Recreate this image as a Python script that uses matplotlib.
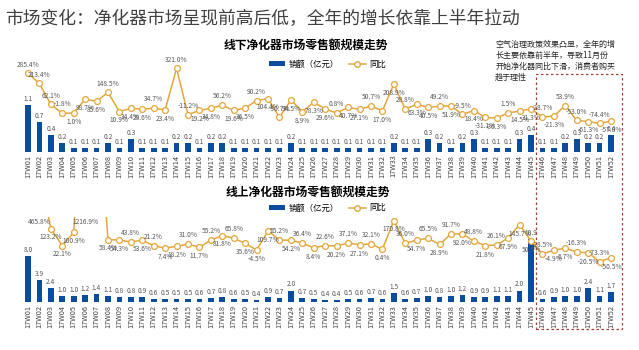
#!/usr/bin/env python3
"""Offline / online air purifier weekly retail sales (2017) with YoY line."""

import numpy as np
import matplotlib

matplotlib.use("Agg")
import matplotlib.pyplot as plt
from matplotlib.lines import Line2D
from matplotlib.patches import Patch, Rectangle

plt.rcParams["font.family"] = ["Noto Sans CJK SC", "DejaVu Sans"]

weeks = [f"17W{i:02d}" for i in range(1, 53)]

# 线下 (offline): sales in 亿元, YoY in %
offline_sales = [
    1.1, 0.7, 0.4, 0.2, 0.1, 0.1, 0.1, 0.2, 0.1, 0.3, 0.1, 0.1, 0.1,
    0.2, 0.2, 0.1, 0.2, 0.2, 0.1, 0.1, 0.1, 0.1, 0.1, 0.2, 0.1, 0.1,
    0.1, 0.1, 0.1, 0.1, 0.1, 0.1, 0.2, 0.1, 0.1, 0.3, 0.2, 0.1, 0.2,
    0.3, 0.1, 0.1, 0.1, 0.3, 0.4, 0.1, 0.1, 0.2, 0.3, 0.2, 0.2, 0.4,
]
offline_yoy = [
    285.4, 213.4, 62.1, -1.8, 1.0, 98.7, 85.6, 148.5, 10.9, 34.4, 28.6, 34.7, 23.4,
    321.0, -11.2, 19.2, 34.8, 56.2, 19.6, 36.5, 90.2, 104.4, -30.7, 94.5, 8.9, 78.3,
    29.6, 0.8, 40.7, 27.1, 50.7, 17.0, 208.9, 28.8, 63.3, 40.5, 49.2, 51.9, -9.5,
    18.4, -31.1, -36.3, 1.5, 14.5, 31.3, -28.7, -21.3, 53.9, -53.0, -61.3, -74.4, -57.8,
]

# 线上 (online)
online_sales = [
    8.0, 3.9, 2.4, 1.0, 1.0, 1.2, 1.4, 1.1, 0.8, 0.8, 0.9, 0.6, 0.5,
    0.5, 0.5, 0.6, 0.7, 0.8, 0.6, 0.5, 0.4, 0.9, 0.7, 2.0, 0.7, 0.5,
    0.4, 0.4, 0.5, 0.6, 0.7, 0.6, 1.5, 0.6, 0.7, 1.0, 0.8, 1.0, 1.2,
    0.9, 0.9, 1.1, 1.1, 2.0, 10.9, 0.6, 0.9, 1.0, 1.0, 2.4, 1.1, 1.7,
]
online_yoy = [
    np.nan, 465.8, 123.2, 22.1, 100.9, 1216.9, 1000.0, 58.4, 54.3, 43.8, 53.6, 21.2, 7.4,
    18.2, 31.0, 11.7, 55.2, 81.8, 65.8, 35.6, -4.5, 109.7, 55.2, 54.2, 36.4, 8.4,
    22.6, 20.2, 37.1, 27.1, 32.1, 0.4, 170.8, 36.0, 54.7, 65.5, 28.9, 91.7, 92.0,
    48.8, 21.8, 26.1, 67.9, 145.7, 50.5, -28.5, -4.9, 6.7, -16.3, -20.5, -73.3, -50.5,
]

# label placement for the YoY labels: a = above, b = below, n = none
offline_pos = list("aaaabbbabb" "babaabbabb" "ababbbbabb" "abbabbabab" "bbabbabaab" "ab")
online_pos = list("nabbbanbba" "babbababab" "bbabababab" "abbabababa" "babbbabbab" "ab")

BAR = "#0B4C9C"
LINE = "#E4A73C"
LABEL = "#595959"


def draw_panel(ax, sales, yoy, pos, bar_top, yoy_lim):
    x = np.arange(len(weeks))
    ax.bar(x, sales, width=0.5, color=BAR, zorder=2)
    for xi, v in zip(x, sales):
        ax.annotate(f"{v:.1f}", (xi, v), xytext=(0, 1.5), textcoords="offset points",
                    ha="center", va="bottom", fontsize=4.8, color=LABEL)
    ax.set_ylim(0, bar_top)
    ax.set_xlim(-0.6, len(weeks) - 0.4)
    ax.set_xticks(x)
    ax.set_xticklabels(weeks, rotation=90, fontsize=5.3, color="#404040")
    ax.tick_params(axis="x", length=0, pad=2)
    ax.set_yticks([])
    for s in ax.spines.values():
        s.set_visible(False)

    ax2 = ax.twinx()
    ax2.plot(x, yoy, color=LINE, linewidth=1.1, marker="o", markersize=4.2,
             markerfacecolor="white", markeredgecolor=LINE, markeredgewidth=0.9, zorder=3)
    ax2.set_ylim(*yoy_lim)
    ax2.set_yticks([])
    for s in ax2.spines.values():
        s.set_visible(False)
    for xi, v, p in zip(x, yoy, pos):
        if p == "n" or np.isnan(v):
            continue
        txt = f"{v:.1f}%"
        if v > yoy_lim[1]:
            ax2.annotate(txt, (xi, yoy_lim[1]), xytext=(0, -1), textcoords="offset points",
                         ha="center", va="top", fontsize=4.8, color=LABEL)
        elif p == "a":
            ax2.annotate(txt, (xi, v), xytext=(0, 3.5), textcoords="offset points",
                         ha="center", va="bottom", fontsize=4.8, color=LABEL)
        else:
            ax2.annotate(txt, (xi, v), xytext=(0, -3.5), textcoords="offset points",
                         ha="center", va="top", fontsize=4.8, color=LABEL)


def legend(fig, y):
    handles = [
        Patch(facecolor=BAR, edgecolor="none"),
        Line2D([0], [0], color=LINE, linewidth=1.1, marker="o", markersize=4,
               markerfacecolor="white", markeredgecolor=LINE),
    ]
    fig.legend(handles, ["销额（亿元）", "同比"], loc="center", bbox_to_anchor=(0.512, y),
               ncol=2, frameon=False, fontsize=6, handlelength=2.0, handleheight=0.6,
               columnspacing=1.2, handletextpad=0.4)


def main() -> int:
    fig = plt.figure(figsize=(6.39, 3.5), dpi=100)

    fig.text(0.008, 0.945, "市场变化：净化器市场呈现前高后低，全年的增长依靠上半年拉动",
             fontsize=12.8, color="#404040", va="center", ha="left")

    ax_top = fig.add_axes([0.033, 0.566, 0.934, 0.269])
    draw_panel(ax_top, offline_sales, offline_yoy, offline_pos, 2.2, (-279, 398))
    fig.text(0.478, 0.871, "线下净化器市场零售额规模走势", fontsize=8.5, fontweight="bold",
             ha="center", va="center")
    legend(fig, 0.817)

    ax_bot = fig.add_axes([0.033, 0.137, 0.934, 0.243])
    draw_panel(ax_bot, online_sales, online_yoy, online_pos, 14.8, (-313, 192))
    fig.text(0.481, 0.451, "线上净化器市场零售额规模走势", fontsize=8.5, fontweight="bold",
             ha="center", va="center")
    legend(fig, 0.406)

    fig.text(0.775, 0.885,
             "空气治理政策效果凸显，全年的增\n长主要依靠前半年，导致11月份\n"
             "开始净化器同比下滑，消费者购买\n趋于理性",
             fontsize=5.8, color="#262626", ha="left", va="top", linespacing=1.25)
    fig.patches.append(Rectangle((0.839, 0.06), 0.134, 0.729, transform=fig.transFigure,
                                 fill=False, edgecolor="#A0413C", linewidth=0.9,
                                 linestyle=(0, (2, 2))))

    fig.savefig("out.png", dpi=100)
    return 0


if __name__ == "__main__":
    raise SystemExit(main())
